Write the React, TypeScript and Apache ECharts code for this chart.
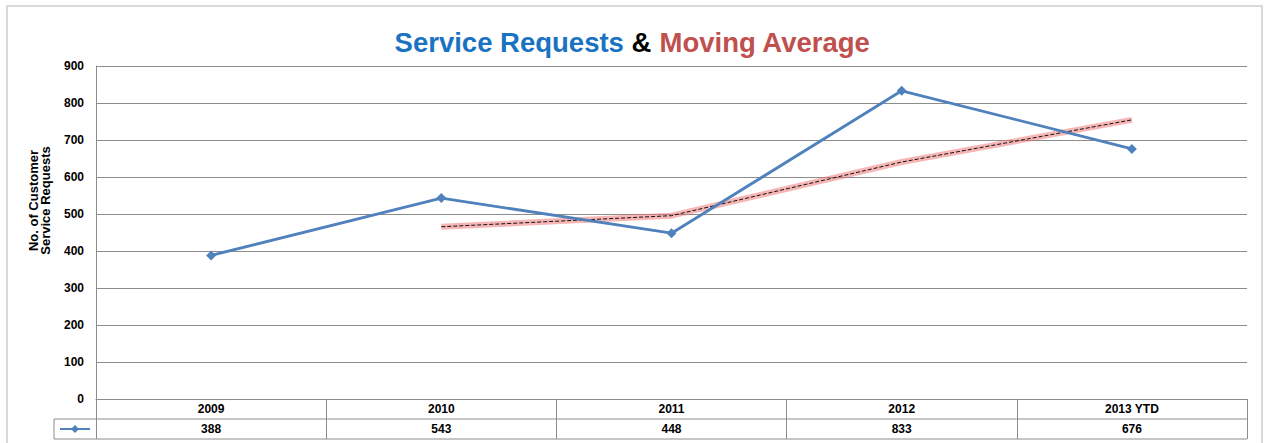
import React, { useEffect, useRef } from "react";
import * as echarts from "echarts";

const years = ["2009", "2010", "2011", "2012", "2013 YTD"];
const requests = [388, 543, 448, 833, 676];
const movingAverage = [null, 465.5, 495.5, 640.5, 754.5];
const yTicks = { min: 0, max: 900, interval: 100 };

const FONT = "'Liberation Sans', Arial, sans-serif";
const GRID = { left: 96, right: 18, top: 66, bottom: 44 };
const W = 1265;
const H = 443;
const ROW = 20;

export default function App() {
  const ref = useRef<HTMLDivElement>(null);
  useEffect(() => {
    if (!ref.current) return;
    const chart = echarts.init(ref.current, null, { renderer: "svg" });
    const plotRight = W - GRID.right;
    const plotBottom = H - GRID.bottom;
    const row2 = plotBottom + ROW;
    const row3 = plotBottom + ROW * 2;
    const keyLeft = 54;
    const gray = "#8c8c8c";
    const titleStyle = { fontFamily: FONT, fontSize: 27.5, fontWeight: "bold" };
    chart.setOption({
      animation: false,
      backgroundColor: "#fff",
      title: {
        text: "{a|Service Requests }{b|& }{c|Moving Average}",
        left: "center",
        top: 23,
        textStyle: {
          rich: {
            a: { ...titleStyle, color: "#1a72c2" },
            b: { ...titleStyle, color: "#000" },
            c: { ...titleStyle, color: "#c0504d" },
          },
        },
      },
      legend: {
        data: ["Service Requests"],
        left: keyLeft + 5,
        top: row2 + 5,
        itemWidth: 30,
        itemHeight: 10,
        itemGap: 0,
        padding: 0,
        formatter: () => "",
        selectedMode: false,
      },
      grid: { left: GRID.left, right: GRID.right, top: GRID.top, bottom: GRID.bottom },
      xAxis: {
        type: "category",
        data: years,
        boundaryGap: true,
        axisLine: { lineStyle: { color: gray, width: 1 } },
        axisTick: { show: true, interval: 0, length: ROW * 2, lineStyle: { color: gray } },
        axisLabel: {
          interval: 0,
          margin: 0,
          formatter: (v: string, i: number) => `{a|${v}}\n{b|${requests[i]}}`,
          rich: {
            a: { fontFamily: FONT, fontSize: 12, fontWeight: "bold", color: "#000", lineHeight: ROW, height: ROW },
            b: { fontFamily: FONT, fontSize: 12, fontWeight: "bold", color: "#000", lineHeight: ROW, height: ROW },
          },
        },
      },
      yAxis: {
        type: "value",
        min: yTicks.min,
        max: yTicks.max,
        interval: yTicks.interval,
        name: "No. of Customer\nService Requests",
        nameLocation: "middle",
        nameRotate: 90,
        nameGap: 45,
        nameTextStyle: {
          fontFamily: FONT,
          fontSize: 13,
          fontWeight: "bold",
          color: "#000",
          lineHeight: 12,
          padding: [0, 0, 0, 64],
        },
        axisLine: { show: true, lineStyle: { color: gray } },
        axisTick: { show: false },
        axisLabel: { fontFamily: FONT, fontSize: 12, fontWeight: "bold", color: "#000", margin: 12 },
        splitLine: { lineStyle: { color: gray, width: 1 } },
      },
      series: [
        {
          name: "Moving Average Glow",
          type: "line",
          data: movingAverage,
          symbol: "none",
          silent: true,
          lineStyle: { color: "rgba(240,110,110,0.5)", width: 6 },
          z: 1,
        },
        {
          name: "Moving Average",
          type: "line",
          data: movingAverage,
          symbol: "none",
          lineStyle: { color: "#111", width: 1, type: [4, 2] },
          z: 2,
        },
        {
          name: "Service Requests",
          type: "line",
          data: requests,
          symbol: "diamond",
          symbolSize: 10,
          itemStyle: { color: "#4f81bd" },
          lineStyle: { color: "#4f81bd", width: 2.8 },
          z: 3,
        },
      ],
      graphic: [
        {
          type: "rect",
          shape: { x: 7, y: 6, width: 1255, height: 460 },
          style: { fill: "none", stroke: "#d9d9d9", lineWidth: 2 },
          silent: true,
        },
        {
          type: "line",
          shape: { x1: keyLeft, y1: row2, x2: plotRight, y2: row2 },
          style: { stroke: gray, lineWidth: 1 },
          silent: true,
        },
        {
          type: "line",
          shape: { x1: keyLeft, y1: row3, x2: plotRight, y2: row3 },
          style: { stroke: gray, lineWidth: 1 },
          silent: true,
        },
        {
          type: "line",
          shape: { x1: keyLeft, y1: row2, x2: keyLeft, y2: row3 },
          style: { stroke: gray, lineWidth: 1 },
          silent: true,
        },
      ],
    });
    return () => chart.dispose();
  }, []);
  return <div ref={ref} style={{ position: "absolute", left: 0, top: 0, width: W, height: H }} />;
}
